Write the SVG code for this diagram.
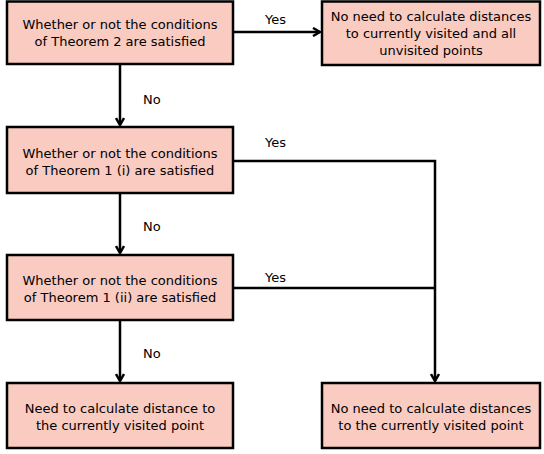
<svg xmlns="http://www.w3.org/2000/svg" width="544" height="454" viewBox="0 0 544 454">
<style>
.box{fill:#f9cbc1;stroke:#000;stroke-width:2.5}
.t{font-family:"DejaVu Sans",sans-serif;font-size:13px;fill:#000;text-anchor:middle}
.l{font-family:"DejaVu Sans",sans-serif;font-size:13px;fill:#000}
.c{fill:none;stroke:#000;stroke-width:2.5}
</style>
<defs>
<marker id="a" markerWidth="10" markerHeight="10" refX="8" refY="5" orient="auto" markerUnits="userSpaceOnUse">
<path d="M1,1 L8,5 L1,9" fill="none" stroke="#000" stroke-width="2.5"/>
</marker>
</defs>
<rect width="544" height="454" fill="#fff"/>
<g id="connectors">
<path class="c" d="M233,32 H320" marker-end="url(#a)"/>
<path class="c" d="M120,64 V125" marker-end="url(#a)"/>
<path class="c" d="M120,193 V253" marker-end="url(#a)"/>
<path class="c" d="M120,320 V381" marker-end="url(#a)"/>
<path class="c" d="M233,161 H435 V381" marker-end="url(#a)"/>
<path class="c" d="M233,288 H435"/>
<text class="l" x="265" y="24">Yes</text>
<text class="l" x="265" y="147">Yes</text>
<text class="l" x="265" y="282">Yes</text>
<text class="l" x="143" y="104">No</text>
<text class="l" x="143" y="231">No</text>
<text class="l" x="143" y="358">No</text>
</g>
<g id="n1"><rect class="box" x="7" y="1.5" width="226" height="62.5"/>
<text class="t" x="120" y="29">Whether or not the conditions</text>
<text class="t" x="120" y="46">of Theorem 2 are satisfied</text></g>
<g id="n2"><rect class="box" x="322" y="1.5" width="218" height="63.5"/>
<text class="t" x="431" y="21">No need to calculate distances</text>
<text class="t" x="431" y="38">to currently visited and all</text>
<text class="t" x="431" y="55">unvisited points</text></g>
<g id="n3"><rect class="box" x="7" y="127" width="226" height="66"/>
<text class="t" x="120" y="158">Whether or not the conditions</text>
<text class="t" x="120" y="175">of Theorem 1 (i) are satisfied</text></g>
<g id="n4"><rect class="box" x="7" y="255" width="226" height="65"/>
<text class="t" x="120" y="285">Whether or not the conditions</text>
<text class="t" x="120" y="302">of Theorem 1 (ii) are satisfied</text></g>
<g id="n5"><rect class="box" x="7" y="383" width="226" height="65"/>
<text class="t" x="120" y="413">Need to calculate distance to</text>
<text class="t" x="120" y="430">the currently visited point</text></g>
<g id="n6"><rect class="box" x="322" y="383" width="218" height="65"/>
<text class="t" x="431" y="413">No need to calculate distances</text>
<text class="t" x="431" y="430">to the currently visited point</text></g>
</svg>
